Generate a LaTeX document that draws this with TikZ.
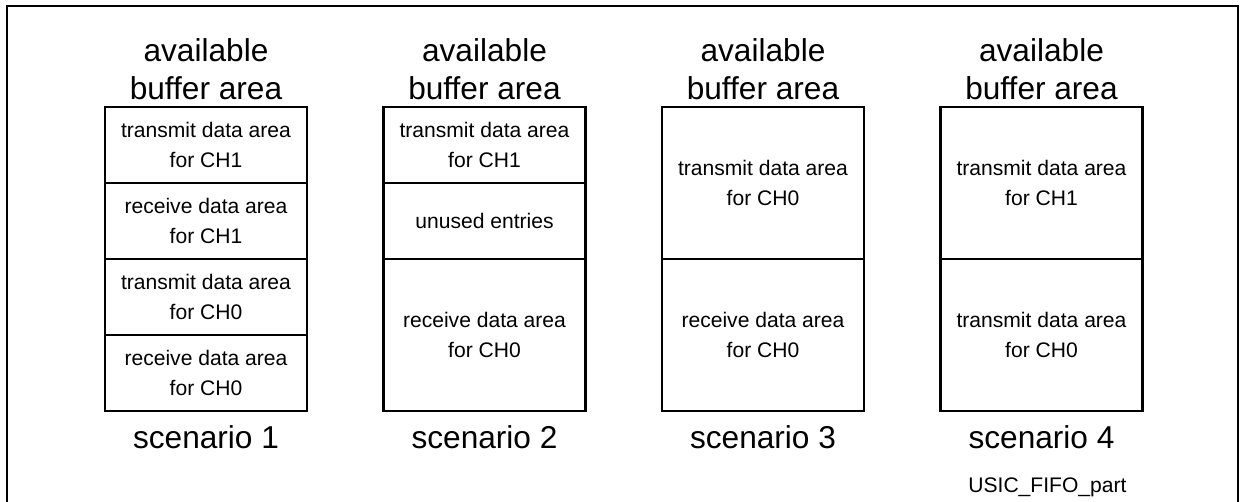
\documentclass[tikz,border=0pt]{standalone}
\usepackage{fontspec}
\setmainfont{Liberation Sans}
\usepackage{tikz}
\usetikzlibrary{positioning}

\begin{document}
\begin{tikzpicture}[x=0.02cm, y=-0.02cm,
  area/.style={draw, line width=1.3pt, rectangle, minimum width=4.04cm, inner sep=0pt, outer sep=0pt, align=center, font=\fontsize{12}{17}\selectfont},
  small/.style={area, minimum height=1.52cm},
  large/.style={area, minimum height=3.04cm},
  title/.style={align=center, font=\fontsize{18}{21.5}\selectfont}]
\useasboundingbox (0,0) rectangle (1241,502);
% outer frame (bottom edge lies outside the picture)
\draw[line width=1pt] (7,502) -- (7,6) -- (1238,6) -- (1238,502);

% scenario 1
\node[title] (headone) at (206,69) {available\\buffer area};
\node[small] (txonea) at (206,145) {transmit data area\\for CH1};
\node[small, below=0pt of txonea] (rxonea) {receive data area\\for CH1};
\node[small, below=0pt of rxonea] (txoneb) {transmit data area\\for CH0};
\node[small, below=0pt of txoneb] (rxoneb) {receive data area\\for CH0};
\node[title] (scenone) at (206,437) {scenario 1};

% scenario 2
\node[title] (headtwo) at (484.5,69) {available\\buffer area};
\node[small] (txtwo) at (484.5,145) {transmit data area\\for CH1};
\node[small, below=0pt of txtwo] (unused) {unused entries};
\node[large, below=0pt of unused] (rxtwo) {receive data area\\for CH0};
\node[title] (scentwo) at (484.5,437) {scenario 2};

% scenario 3
\node[title] (headthree) at (763,69) {available\\buffer area};
\node[large] (txthree) at (763,183) {transmit data area\\for CH0};
\node[large, below=0pt of txthree] (rxthree) {receive data area\\for CH0};
\node[title] (scenthree) at (763,437) {scenario 3};

% scenario 4
\node[title] (headfour) at (1041.5,69) {available\\buffer area};
\node[large] (txfoura) at (1041.5,183) {transmit data area\\for CH1};
\node[large, below=0pt of txfoura] (txfourb) {transmit data area\\for CH0};
\node[title] (scenfour) at (1041.5,437) {scenario 4};

\node[anchor=west, inner sep=0pt, font=\fontsize{12}{14}\selectfont] (figname) at (968,487) {USIC\_FIFO\_part};
\end{tikzpicture}
\end{document}
